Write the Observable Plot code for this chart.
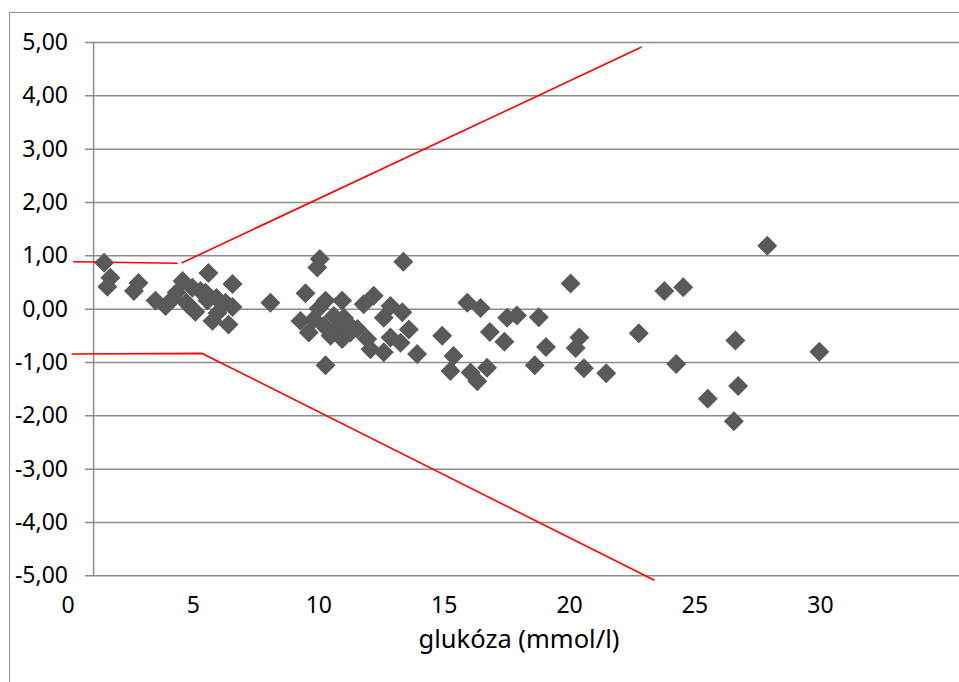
<!DOCTYPE html>
<html><head><meta charset="utf-8">
<script src="https://cdn.jsdelivr.net/npm/d3@7"></script>
<script src="https://cdn.jsdelivr.net/npm/@observablehq/plot@0.6"></script>
<style>
html,body{margin:0;padding:0;background:#fff;overflow:hidden;width:959px;height:682px}
#frame{position:absolute;left:9px;top:12px;width:2000px;height:2000px;border-left:1.5px solid #8f8f8f;border-top:1.5px solid #8f8f8f;box-sizing:border-box}
#chart{position:absolute;left:0;top:0}
#xtitle{position:absolute;left:93px;width:852px;top:626px;text-align:center;font-family:"Noto Sans";font-size:25.5px;color:#000;line-height:1}
</style></head><body>
<div id="frame"></div><div id="chart"></div><div id="xtitle">glukóza (mmol/l)</div>
<script>
// measured points: glucose (mmol/l) and difference
const glucose = [1.44,1.69,1.57,2.81,2.63,3.49,3.89,4.21,4.57,4.33,4.72,5.08,4.96,5.28,5.60,5.48,5.76,5.56,5.92,6.28,6.56,6.56,6.40,4.88,5.96,8.07,
 10.04,9.94,13.37,9.47,10.27,10.93,11.79,12.19,12.86,13.33,12.59,13.59,9.27,9.60,9.80,10.20,10.60,10.73,10.47,10.93,11.00,11.26,11.93,12.06,12.59,12.86,13.26,13.92,10.27,9.99,11.14,11.54,
 14.92,15.37,15.25,15.92,16.45,16.05,16.32,16.71,16.82,17.40,17.51,17.90,18.77,19.06,18.61,20.04,20.39,20.24,20.57,21.46,22.76,23.78,24.53,24.25,26.61,26.72,25.51,26.55,27.88,29.96];
const diff = [0.87,0.59,0.42,0.49,0.34,0.16,0.06,0.21,0.53,0.31,0.12,-0.05,0.40,0.34,0.68,0.31,-0.22,0.16,0.21,0.12,0.47,0.04,-0.29,0.04,-0.07,0.12,
 0.94,0.78,0.89,0.30,0.16,0.16,0.09,0.25,0.06,-0.06,-0.16,-0.38,-0.22,-0.44,-0.19,-0.31,-0.13,-0.38,-0.50,-0.56,-0.16,-0.44,-0.56,-0.75,-0.81,-0.53,-0.63,-0.84,-1.05,0.01,-0.26,-0.37,
 -0.50,-0.88,-1.16,0.12,0.02,-1.19,-1.35,-1.10,-0.43,-0.61,-0.16,-0.12,-0.15,-0.71,-1.05,0.48,-0.53,-0.73,-1.11,-1.20,-0.45,0.34,0.41,-1.03,-0.59,-1.44,-1.68,-2.10,1.19,-0.80];

// red limit lines (hand-drawn segments in the original)
const upperLeftX = [0.23, 4.35];
const upperLeftY = [0.89, 0.86];
const upperRightX = [4.55, 22.85];
const upperRightY = [0.87, 4.91];
const lowerX = [0.17, 5.35, 23.36];
const lowerY = [-0.84, -0.83, -5.08];

const xTicks = [0, 5, 10, 15, 20, 25, 30];
const yTicks = [-5, -4, -3, -2, -1, 0, 1, 2, 3, 4, 5];
const xDomain = [0, 35];
const yDomain = [-5, 5];
const gridStart = 0.70;   // gridlines begin a little left of the vertical axis
const gridEnd = 35.55;
const axisCross = 1.02;   // where the vertical axis line sits

const points = glucose.map((g, i) => ({g, d: diff[i]}));
const segs = [];
upperLeftX.forEach((x, i) => segs.push({s: "ul", x, y: upperLeftY[i]}));
upperRightX.forEach((x, i) => segs.push({s: "ur", x, y: upperRightY[i]}));
lowerX.forEach((x, i) => segs.push({s: "lo", x, y: lowerY[i]}));

const chart = Plot.plot({
  width: 959, height: 682,
  marginLeft: 67.5, marginRight: 13.7, marginTop: 42, marginBottom: 106.7,
  style: {fontFamily: "Noto Sans", fontSize: "23px", color: "#000", background: "transparent", overflow: "visible"},
  x: {domain: xDomain, ticks: xTicks, tickSize: 0, tickPadding: 21, label: null, tickFormat: d => String(d)},
  y: {domain: yDomain, ticks: yTicks, tickSize: 0, tickPadding: 0, label: null, tickFormat: d => d.toFixed(2).replace(".", ",")},
  marks: [
    Plot.ruleY(yTicks, {y: d => d, x1: gridStart, x2: gridEnd, stroke: "#8c8c8c", strokeWidth: 1.5, strokeOpacity: 1}),
    Plot.ruleX([axisCross], {x: d => d, y1: yDomain[0], y2: yDomain[1], stroke: "#8c8c8c", strokeWidth: 1.5, strokeOpacity: 1}),
    Plot.line(segs, {x: "x", y: "y", z: "s", stroke: "#ff0000", strokeWidth: 1.6}),
    Plot.dot(points, {x: "g", y: "d", symbol: "diamond2", r: 9, fill: "#595959", stroke: "none"})
  ]
});
document.getElementById("chart").appendChild(chart);
</script>
</body></html>
